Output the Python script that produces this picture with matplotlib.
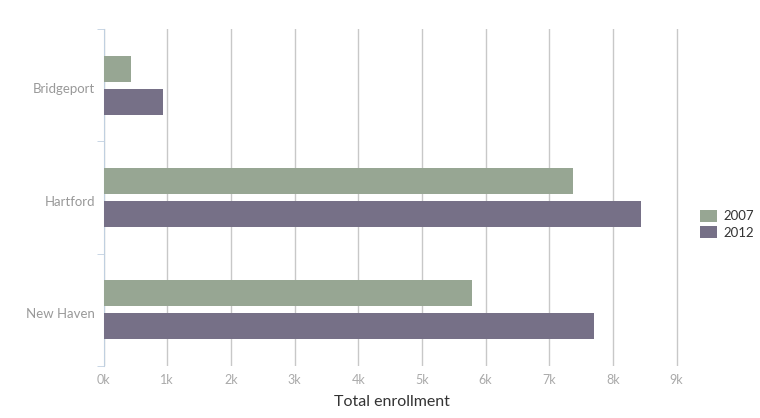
import matplotlib.pyplot as plt
import matplotlib.ticker as mticker
import matplotlib.transforms as mtransforms
import numpy as np

cities = ["Bridgeport", "Hartford", "New Haven"]
years = ["2007", "2012"]
enroll_2007 = [430, 7370, 5790]
enroll_2012 = [930, 8440, 7700]

plt.rcParams["font.family"] = ["Lato", "DejaVu Sans"]

px_k = 63.67
x_max = 9050
fig = plt.figure(figsize=(7.6, 4.18), dpi=100)
ax = fig.add_axes([103.5 / 760, 1 - 366 / 418, px_k * x_max / 1000 / 760, 337 / 418])

cores = {"2007": "#97a693", "2012": "#767087"}
y = np.arange(len(cities))
h = 26 / 112.3
gap = 7 / 112.3

ax.barh(y - (h + gap) / 2, enroll_2007, height=h, color=cores["2007"], label="2007", zorder=3)
ax.barh(y + (h + gap) / 2, enroll_2012, height=h, color=cores["2012"], label="2012", zorder=3)

ax.set_xlim(0, x_max)
ax.set_ylim(len(cities) - 0.5, -0.5)

ax.xaxis.set_major_locator(mticker.FixedLocator(np.arange(0, 9001, 1000)))
ax.xaxis.set_major_formatter(mticker.FuncFormatter(lambda v, p: f"{int(v / 1000)}k"))
ax.grid(axis="x", color="#c8c8c8", linewidth=1, zorder=0)
ax.tick_params(axis="x", length=0, labelsize=9, labelcolor="#aaaaaa", pad=6)

ax.set_yticks(y)
ax.set_yticklabels(cities)
ax.yaxis.set_minor_locator(mticker.FixedLocator([-0.5, 0.5, 1.5, 2.5]))
ax.tick_params(axis="y", which="major", length=0, labelsize=9.5, labelcolor="#999999", pad=6)
ax.tick_params(axis="y", which="minor", length=5, color="#c0d0e0")
desloc = mtransforms.ScaledTranslation(0, -3 / 100, fig.dpi_scale_trans)
for lbl in ax.get_yticklabels():
    lbl.set_va("center_baseline")
    lbl.set_transform(lbl.get_transform() + desloc)

for s in ["top", "right", "bottom"]:
    ax.spines[s].set_visible(False)
ax.spines["left"].set_color("#c0d0e0")

ax.set_xlabel("Total enrollment", fontsize=11.5, color="#333333", labelpad=6)

leg = fig.legend(
    loc="upper left",
    bbox_to_anchor=(688 / 760, 1 - 198 / 418),
    frameon=False,
    fontsize=9.5,
    handlelength=1.3,
    handleheight=1.0,
    handletextpad=0.45,
    labelspacing=0.3,
)
for t in leg.get_texts():
    t.set_color("#333333")

fig.savefig("out.png", dpi=100)
